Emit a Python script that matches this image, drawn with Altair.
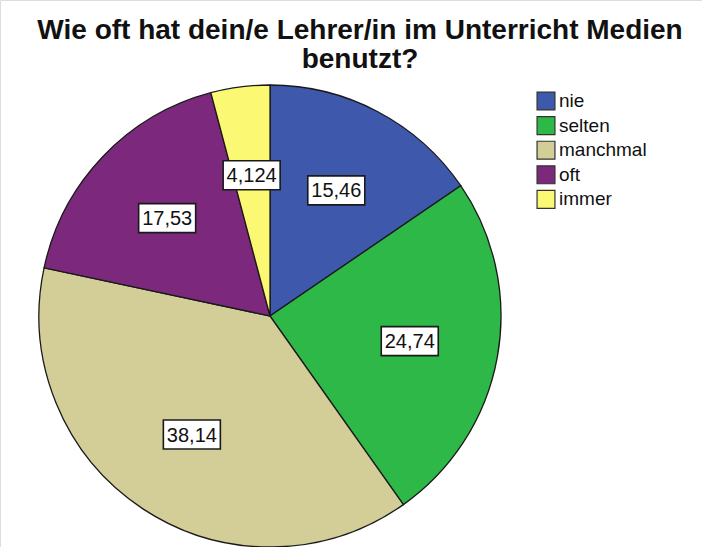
import altair as alt
import pandas as pd

categories = ["nie", "selten", "manchmal", "oft", "immer"]
values = [15.46, 24.74, 38.14, 17.53, 4.124]
labels = ["15,46", "24,74", "38,14", "17,53", "4,124"]
colors = ["#3E58AC", "#2EB848", "#D3CE97", "#7C287D", "#FBF873"]

df = pd.DataFrame({
    "cat": categories,
    "value": values,
    "label": labels,
    "idx": list(range(len(categories))),
})

W, H = 702, 547
CX, CY, R = 270, 316, 231
LR = 142
BW, BH = 57, 29
FONT = "Liberation Sans"

base = alt.Chart(df)

pie = base.mark_arc(outerRadius=R, stroke="#1a1a1a", strokeWidth=1.3).encode(
    theta=alt.Theta("value:Q", stack=True),
    color=alt.Color(
        "cat:N",
        sort=categories,
        scale=alt.Scale(domain=categories, range=colors),
        legend=alt.Legend(
            title=None,
            orient="none",
            legendX=536,
            legendY=91,
            symbolType="square",
            symbolSize=320,
            symbolStrokeColor="#333333",
            symbolStrokeWidth=1.2,
            symbolOpacity=1,
            labelFont=FONT,
            labelFontSize=19,
            labelColor="#111111",
            labelOffset=3,
            rowPadding=0.6,
        ),
    ),
    order=alt.Order("idx:Q"),
    x=alt.value(CX),
    y=alt.value(CY),
)

pos = base.transform_joinaggregate(
    total="sum(value)"
).transform_window(
    cum="sum(value)", sort=[alt.SortField("idx")], frame=[None, 0]
).transform_calculate(
    mid="(datum.cum - datum.value/2) / datum.total * 2 * PI"
).transform_calculate(
    lx=f"{CX} + {LR} * sin(datum.mid)",
    ly=f"{CY} - {LR} * cos(datum.mid)",
).transform_calculate(
    x0=f"datum.lx - {BW/2}",
    x1=f"datum.lx + {BW/2}",
    y0=f"datum.ly - {BH/2}",
    y1=f"datum.ly + {BH/2}",
)

boxes = pos.mark_rect(fill="white", stroke="#1a1a1a", strokeWidth=1.6).encode(
    x=alt.X("x0:Q", scale=None),
    x2="x1:Q",
    y=alt.Y("y0:Q", scale=None),
    y2="y1:Q",
)

texts = pos.mark_text(
    font=FONT, fontSize=20, color="#111111", align="center", baseline="middle", dy=1
).encode(
    x=alt.X("lx:Q", scale=None),
    y=alt.Y("ly:Q", scale=None),
    text="label:N",
)

chart = alt.layer(pie, boxes, texts).properties(
    width=W,
    height=H,
    autosize=alt.AutoSizeParams(type="none"),
    padding=0,
    title=alt.TitleParams(
        ["Wie oft hat dein/e Lehrer/in im Unterricht Medien", "benutzt?"],
        font=FONT,
        fontSize=28,
        fontWeight="bold",
        color="#111111",
        anchor="middle",
        baseline="top",
        lineHeight=29,
        dx=9,
        dy=78,
    ),
).configure_view(stroke=None).configure(background="white")

chart.save("out.html", embed_options={"renderer": "svg", "actions": False})
